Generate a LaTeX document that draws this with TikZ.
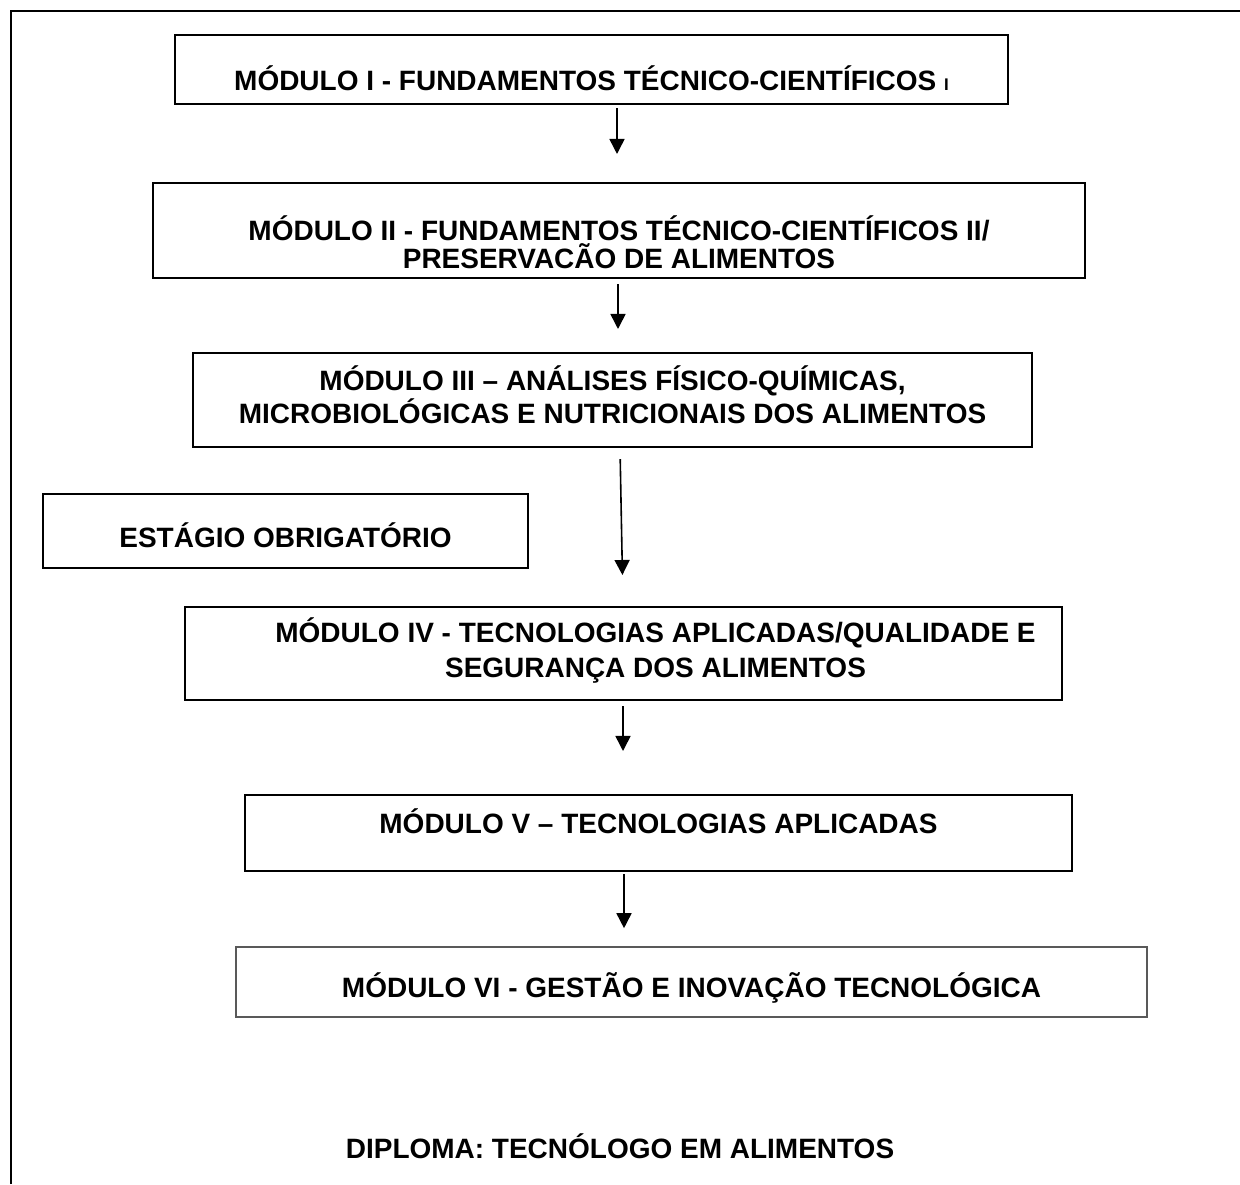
\documentclass[tikz,border=0pt]{standalone}
\usepackage{fontspec}
\setmainfont{Liberation Sans}
\usetikzlibrary{arrows.meta, positioning}
\tikzset{modulo/.style={draw, line width=0.05cm, align=center, inner sep=0pt}}
\tikzset{estagio/.style={modulo, line width=0.035cm}}
\tikzset{gestao/.style={modulo, draw=black!65, line width=0.04cm}}
\tikzset{flow/.style={-{Triangle[width=0.375cm, length=0.375cm]}, line width=0.04cm}}
\tikzset{frame/.style={line width=0.0675cm}}
\tikzset{diploma/.style={inner sep=0pt, text height=0pt, text depth=0pt}}

\begin{document}
\begin{tikzpicture}[x=0.025cm, y=-0.025cm, font=\fontsize{19.9}{23.4}\selectfont\bfseries]
\useasboundingbox (0,0) rectangle (1240,1184);
\draw[frame] (11,1184) -- (11,11) -- (1240,11);

\node[modulo, minimum width=20.825cm, minimum height=1.725cm, text height=1.025cm, text depth=0pt] (mod1) at (591.5,69.5) {MÓDULO I - FUNDAMENTOS TÉCNICO-CIENTÍFICOS {\fontsize{12}{12}\selectfont I}};
\node[modulo, minimum width=23.3cm, minimum height=2.375cm, text height=1.875cm, text depth=0pt, font=\fontsize{19.9}{19.9}\selectfont\bfseries] (mod2) at (619,230.5) {MÓDULO II - FUNDAMENTOS TÉCNICO-CIENTÍFICOS II/\\PRESERVACÃO DE ALIMENTOS};
\node[modulo, minimum width=20.975cm, minimum height=2.35cm, text height=1.15cm, text depth=0pt] (mod3) at (612.5,400) {MÓDULO III – ANÁLISES FÍSICO-QUÍMICAS,\\MICROBIOLÓGICAS E NUTRICIONAIS DOS ALIMENTOS};
\node[estagio, minimum width=12.125cm, minimum height=1.85cm, text height=0.8cm, text depth=0pt] (estagio) at (285.5,531) {ESTÁGIO OBRIGATÓRIO};
\node[modulo, minimum width=21.925cm, minimum height=2.325cm, text height=1.175cm, text depth=0pt, font=\fontsize{19.9}{24.2}\selectfont\bfseries] (mod4) at (623.5,653.5) {\hspace*{1.6cm}MÓDULO IV - TECNOLOGIAS APLICADAS/QUALIDADE E\\\hspace*{1.6cm}SEGURANÇA DOS ALIMENTOS};
\node[modulo, minimum width=20.675cm, minimum height=1.9cm, text height=0pt, text depth=0pt] (mod5) at (658.5,833) {MÓDULO V – TECNOLOGIAS APLICADAS};
\node[gestao, minimum width=22.775cm, minimum height=1.75cm, text height=0.75cm, text depth=0pt] (mod6) at (691.5,982) {MÓDULO VI - GESTÃO E INOVAÇÃO TECNOLÓGICA};
\node[diploma] (titulo) at (620,1158) {DIPLOMA: TECNÓLOGO EM ALIMENTOS};

% arrow columns
\coordinate (c1) at (617,0);
\coordinate (c2) at (618,0);
\coordinate (c3a) at (620,0);
\coordinate (c3b) at (623,0);
\coordinate (c4) at (623,0);
\coordinate (c5) at (624,0);

\draw[flow, shorten <=0.075cm, shorten >=0.7cm] (mod1.south-|c1) -- (mod2.north-|c1);
\draw[flow, shorten <=0.125cm, shorten >=0.575cm] (mod2.south-|c2) -- (mod3.north-|c2);
\draw[flow, shorten <=0.275cm, shorten >=0.775cm] (mod3.south-|c3a) -- (mod4.north-|c3b);
\draw[flow, shorten <=0.125cm, shorten >=1.075cm] (mod4.south-|c4) -- (mod5.north-|c4);
\draw[flow, shorten <=0.05cm, shorten >=0.45cm] (mod5.south-|c5) -- (mod6.north-|c5);
\end{tikzpicture}
\end{document}
